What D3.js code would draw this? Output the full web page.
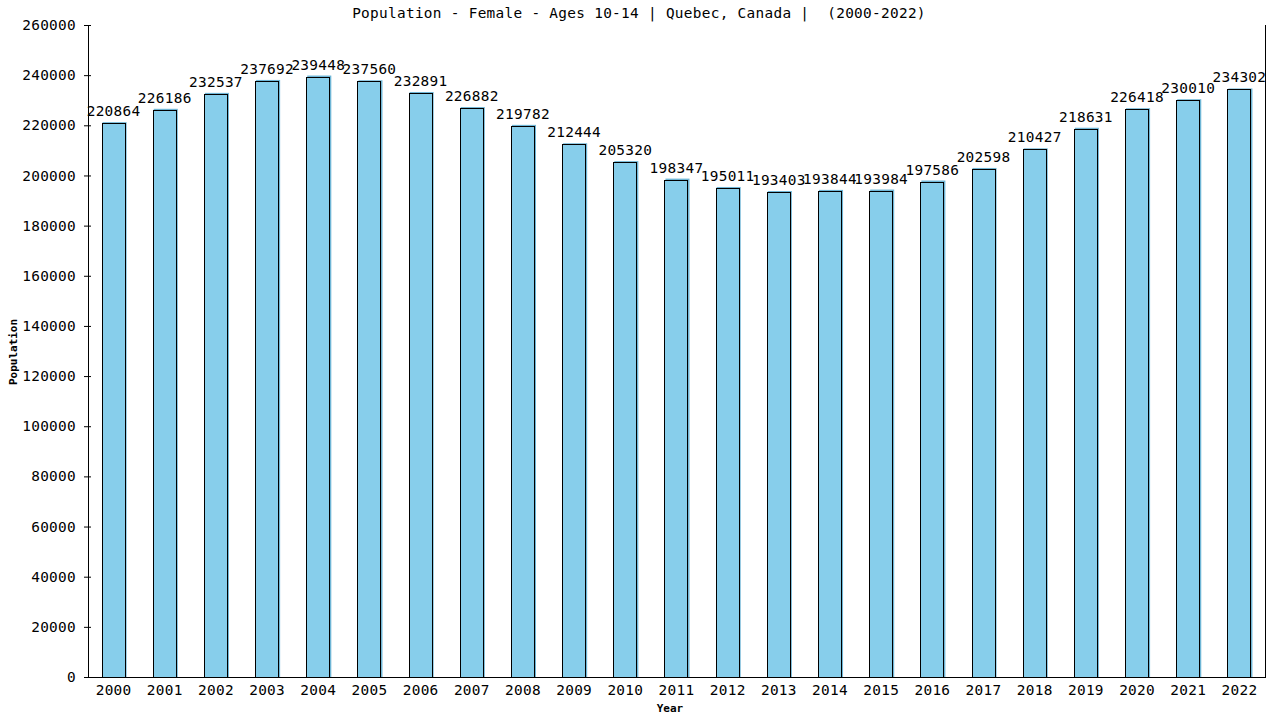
<!DOCTYPE html>
<html><head><meta charset="utf-8">
<script src="https://cdn.jsdelivr.net/npm/d3@7"></script>
<style>
body{margin:0;background:#fff;}
text{font-family:"DejaVu Sans Mono",monospace;}
</style></head>
<body><svg id="c" width="1280" height="720"></svg>
<script>
const years = ["2000","2001","2002","2003","2004","2005","2006","2007","2008","2009","2010","2011","2012","2013","2014","2015","2016","2017","2018","2019","2020","2021","2022"];
const population = [220864,226186,232537,237692,239448,237560,232891,226882,219782,212444,205320,198347,195011,193403,193844,193984,197586,202598,210427,218631,226418,230010,234302];
const yTicks = [0,20000,40000,60000,80000,100000,120000,140000,160000,180000,200000,220000,240000,260000];
const title = "Population - Female - Ages 10-14 | Quebec, Canada |  (2000-2022)";

const svg = d3.select("#c");
const L = 88, R = 1265, T = 25, B = 677;
const x = d3.scaleBand().domain(years).range([L, R]).paddingInner(0.53).paddingOuter(0.265);
const y = d3.scaleLinear().domain([0, 260000]).range([B, T]);

const fs = "14.4px", ls = "0.3px";

// title
svg.append("text").attr("x", 639).attr("y", 18).attr("text-anchor", "middle")
  .style("white-space", "pre")
  .style("font-size", fs).style("letter-spacing", ls).text(title);

// bars
const g = svg.append("g");
g.selectAll("rect.sh").data(population).join("rect").attr("class","sh")
  .attr("x", (d,i) => x(years[i]) + 1).attr("y", d => y(d) - 1)
  .attr("width", x.bandwidth()).attr("height", d => B - y(d) + 1)
  .attr("fill", "#6fb6d6");
g.selectAll("rect.b").data(population).join("rect").attr("class","b")
  .attr("x", (d,i) => Math.round(x(years[i])) + 0.5).attr("y", d => Math.round(y(d)) + 0.5)
  .attr("width", Math.round(x.bandwidth()) - 1).attr("height", d => B - Math.round(y(d)))
  .attr("fill", "#87ceeb").attr("stroke", "#000").attr("stroke-width", 1);

// value labels
g.selectAll("text.v").data(population).join("text").attr("class","v")
  .attr("x", (d,i) => x(years[i]) + x.bandwidth()/2).attr("y", d => y(d) - 7)
  .attr("text-anchor", "middle").style("font-size", fs).style("letter-spacing", ls)
  .text(d => d);

// y axis
const yAxis = d3.axisLeft(y).tickValues(yTicks).tickSize(0).tickPadding(12).tickFormat(d => d);
const ya = svg.append("g").attr("transform", `translate(${L},0)`).call(yAxis);
ya.select(".domain").remove();
ya.selectAll("text").style("font-size", fs).style("letter-spacing", ls).attr("fill","#000")
  .attr("font-family", "DejaVu Sans Mono");
ya.selectAll(".tick").append("line").attr("x1", -4).attr("x2", 3).attr("stroke", "#000");

// x axis
const xAxis = d3.axisBottom(x).tickSize(0).tickPadding(8);
const xa = svg.append("g").attr("transform", `translate(0,${B})`).call(xAxis);
xa.select(".domain").remove();
xa.selectAll("text").style("font-size", fs).style("letter-spacing", ls).attr("fill","#000")
  .attr("font-family", "DejaVu Sans Mono");

// frame lines
svg.append("line").attr("x1", L+0.5).attr("x2", L+0.5).attr("y1", T).attr("y2", B+1).attr("stroke","#000");
svg.append("line").attr("x1", R+0.5).attr("x2", R+0.5).attr("y1", T).attr("y2", B+1).attr("stroke","#000");
svg.append("line").attr("x1", L).attr("x2", R+1).attr("y1", B+0.5).attr("y2", B+0.5).attr("stroke","#000");

// axis titles
svg.append("text").attr("x", 670).attr("y", 712).attr("text-anchor","middle")
  .style("font-size","11px").style("font-weight","bold").text("Year");
svg.append("text").attr("transform","translate(17,352) rotate(-90)").attr("text-anchor","middle")
  .style("font-size","11px").style("font-weight","bold").text("Population");
</script></body></html>
